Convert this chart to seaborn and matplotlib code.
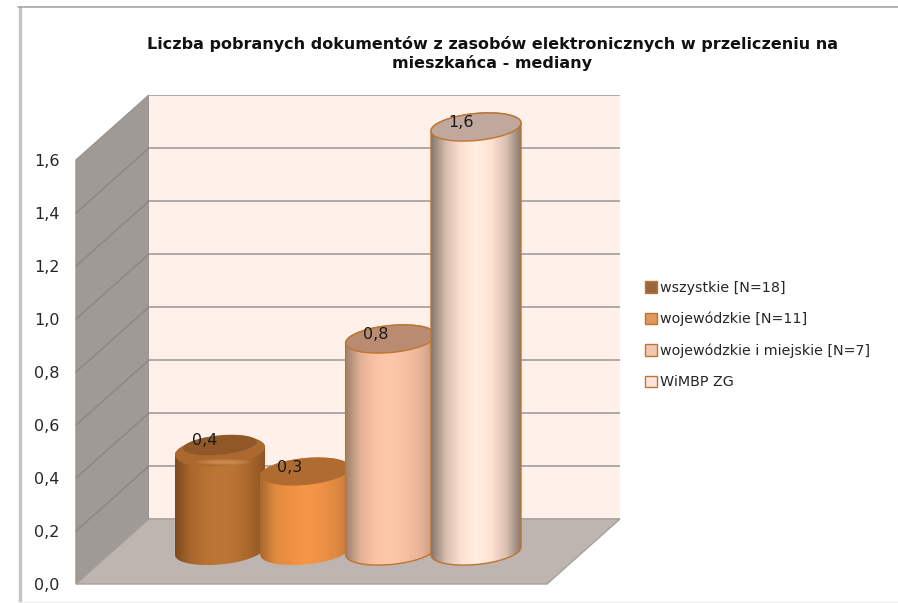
import numpy as np
import pandas as pd
import matplotlib
matplotlib.use("Agg")
import matplotlib.pyplot as plt
import seaborn as sns
from matplotlib.colors import LinearSegmentedColormap
from matplotlib.patches import PathPatch, Polygon
from matplotlib.path import Path

# Donnees
categories = ["wszystkie [N=18]", "wojewódzkie [N=11]", "wojewódzkie i miejskie [N=7]", "WiMBP ZG"]
values = [0.4, 0.3, 0.8, 1.6]
ticks = [0.0, 0.2, 0.4, 0.6, 0.8, 1.0, 1.2, 1.4, 1.6]
title = "Liczba pobranych dokumentów z zasobów elektronicznych w przeliczeniu na\nmieszkańca - mediany"

legend_colors = ["#a8652e", "#f79646", "#fcc4a4", "#ffe3d6"]
top_colors = ["#8f5826", "#b06c30", "#b98c72", "#c0a89c"]
ramps = [
    ["#7d4a1e", "#a8652c", "#b87333", "#bb7535", "#b87333", "#a8652c", "#8a5424"],
    ["#a8672c", "#e08a40", "#ee9044", "#f79646", "#f09145", "#e08a40", "#c27a38"],
    ["#a08270", "#e6b296", "#fcc4a4", "#fdc8aa", "#f6bf9f", "#e6b296", "#b8917a"],
    ["#84766c", "#d8bfb0", "#ffe0d2", "#fff0e4", "#ffe0d2", "#d8bfb0", "#84766c"],
]

W, H = 898, 603
PX_Y = 265.0    # pixels pour une unite
PX_CAT = 85.33  # pixels entre deux categories
DX, DY = 73, 65 # decalage du fond 3D
FRONT_L, FRONT_R, FRONT_0 = 76, 547, 584

sns.set_theme(style="white")
plt.rcParams["font.family"] = ["DejaVu Sans"]


def add_axes(fig, left, top, right, bottom, **kw):
    return fig.add_axes([left / W, 1 - bottom / H, (right - left) / W, (bottom - top) / H], **kw)


def comma(v):
    return f"{v:.1f}".replace(".", ",")


def ellipse_xy(xc, yc, a, b, tilt, t):
    return np.column_stack([xc + a * np.cos(t), yc + b * np.sin(t) + tilt * a * np.cos(t)])


fig = plt.figure(figsize=(W / 100, H / 100), dpi=100, facecolor="white")

# Fond : cadre, paroi gauche, sol
scene = add_axes(fig, 0, 0, W, H, zorder=0)
scene.set_xlim(0, W)
scene.set_ylim(H, 0)
scene.axis("off")
scene.plot([19.5, 19.5], [7, H], color="#c4c4c4", lw=2.5)
scene.plot([18, W], [6.5, 6.5], color="#a8a8a8", lw=1.2)
scene.plot([19, W], [H - 1, H - 1], color="#f0f0f0", lw=1)
front_top = FRONT_0 - ticks[-1] * PX_Y
scene.add_patch(Polygon([(FRONT_L, front_top), (FRONT_L + DX, front_top - DY),
                         (FRONT_L + DX, FRONT_0 - DY), (FRONT_L, FRONT_0)],
                        facecolor="#a09a96", edgecolor="#9a9490", lw=1))
scene.add_patch(Polygon([(FRONT_L, FRONT_0), (FRONT_R, FRONT_0),
                         (FRONT_R + DX, FRONT_0 - DY), (FRONT_L + DX, FRONT_0 - DY)],
                        facecolor="#bfb5b0", edgecolor="#a6a09c", lw=1))
for v in ticks[1:-1]:
    y = FRONT_0 - v * PX_Y
    scene.plot([FRONT_L, FRONT_L + DX], [y, y - DY], color="#8b8682", lw=1)

# Paroi du fond
back = add_axes(fig, FRONT_L + DX, front_top - DY, FRONT_R + DX, FRONT_0 - DY, zorder=1)
back.set_facecolor("#fff0e9")
back.set_ylim(0, ticks[-1])
back.set_yticks(ticks)
back.set_xticks([])
back.tick_params(left=False, labelleft=False)
back.grid(axis="y", color="#a8a4a1", lw=1.3)
sns.despine(ax=back, left=True, bottom=True, top=True, right=True)

# Axe avant pour les etiquettes
front = add_axes(fig, FRONT_L, front_top, FRONT_R, FRONT_0, zorder=2)
front.patch.set_alpha(0)
front.set_ylim(0, ticks[-1])
front.set_yticks(ticks)
front.set_yticklabels([comma(v) for v in ticks], fontsize=11.5, color="#262626")
front.set_xticks([])
front.tick_params(axis="y", length=0, pad=12)
sns.despine(ax=front, left=True, bottom=True, top=True, right=True)

# Cylindres
ax = add_axes(fig, 76, 74, 620, 577.5, zorder=3)
ax.patch.set_alpha(0)
df = pd.DataFrame({"typ": categories, "mediana": values})
sns.barplot(data=df, x="typ", y="mediana", hue="typ", palette=legend_colors, width=1.055,
            edgecolor="#bd7530", linewidth=1, legend=True, ax=ax)
ax.set_xticks([])
ax.set_yticks([])
ax.set_xlabel("")
ax.set_ylabel("")
sns.despine(ax=ax, left=True, bottom=True, top=True, right=True)

B = 13.5 / PX_Y
TILT = (4.0 / PX_Y) / (45 / PX_CAT)
bars = [p for p in ax.patches if p.get_height() > 0]
for i, p in enumerate(bars):
    xc = p.get_x() + p.get_width() / 2
    a = p.get_width() / 2
    top = p.get_height()
    bevel = 6 / PX_Y if i == 0 else 0
    z = 3 + i
    bottom_arc = ellipse_xy(xc, 0, a, B, TILT, np.linspace(np.pi, 2 * np.pi, 60))
    top_arc = ellipse_xy(xc, top - bevel, a, B, TILT, np.linspace(0, np.pi, 60))
    body = PathPatch(Path(np.vstack([bottom_arc, top_arc, bottom_arc[:1]]), closed=True),
                     facecolor="none", edgecolor="#bd7530" if i > 1 else "none", lw=1, zorder=z + 0.2, clip_on=False)
    ax.add_patch(body)
    p.set_zorder(z)
    p.set_clip_path(body)

    cmap = LinearSegmentedColormap.from_list(f"bar{i}", ramps[i])
    im = ax.imshow(np.linspace(0, 1, 256).reshape(1, -1), extent=(xc - a, xc + a, -2 * B, top + 2 * B),
                   cmap=cmap, aspect="auto", zorder=z + 0.1, interpolation="bilinear")
    im.set_clip_path(body)

    t = np.linspace(0, 2 * np.pi, 120)
    if i == 0:
        # rebord arrondi du premier cylindre, avec un reflet doux
        ax.add_patch(Polygon(ellipse_xy(xc, top - bevel, a, 1.1 * B, TILT, t), facecolor="#ab682f",
                             edgecolor="none", zorder=z + 0.3, clip_on=False))
        for k, scale in enumerate([1.0, 0.8, 0.6, 0.4]):
            ax.add_patch(Polygon(ellipse_xy(xc + 0.04, top - bevel - 0.82 * B, 0.6 * scale * a, 0.22 * scale * B, 0, t),
                                 facecolor="#e0a060", edgecolor="none", alpha=0.22,
                                 zorder=z + 0.31 + k * 0.001, clip_on=False))
        ax.add_patch(Polygon(ellipse_xy(xc, top, 0.82 * a, 0.72 * B, TILT, t), facecolor=top_colors[i],
                             edgecolor="none", zorder=z + 0.32, clip_on=False))
    else:
        ax.add_patch(Polygon(ellipse_xy(xc, top, a, B, TILT, t), facecolor=top_colors[i],
                             edgecolor="#bd7530" if i > 1 else "none", lw=1, zorder=z + 0.3, clip_on=False))
    ax.annotate(comma(values[i]), (xc, top), xytext=(-11, 3.2), textcoords="offset points",
                ha="center", va="center", fontsize=11.5, color="#1a1a1a", zorder=10, annotation_clip=False)

ax.set_xlim((76 - 220) / PX_CAT, (620 - 220) / PX_CAT)
ax.set_ylim(-0.1, (551 - 74) / PX_Y)

# Legende
sns.move_legend(ax, "center left", bbox_to_anchor=(645 / W, 1 - 335 / H), bbox_transform=fig.transFigure,
                frameon=False, title=None, fontsize=10.3, handlelength=0.85, handleheight=0.85,
                handletextpad=0.2, labelspacing=1.2, borderpad=0, borderaxespad=0)
for txt in ax.get_legend().get_texts():
    txt.set_color("#262626")

fig.text(492 / W, 1 - 53.5 / H, title, ha="center", va="center", fontsize=11.5, fontweight="bold",
         color="#111111", linespacing=1.25)

fig.savefig("out.png", dpi=100)
